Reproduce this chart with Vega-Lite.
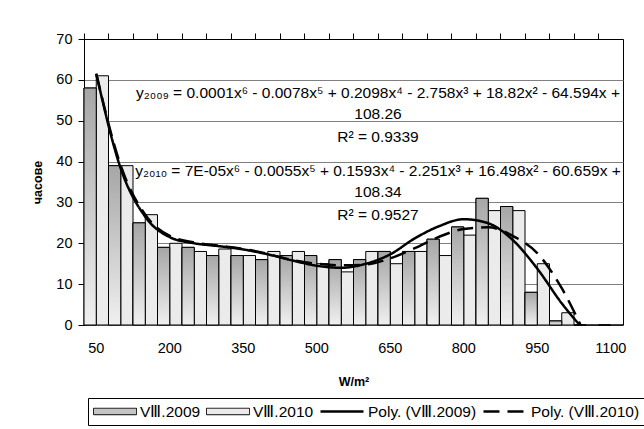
{
  "$schema": "https://vega.github.io/schema/vega-lite/v6.json",
  "width": 539,
  "height": 286,
  "autosize": "none",
  "padding": {"left": 84, "top": 39, "right": 21, "bottom": 104},
  "background": "white",
  "config": {
    "font": "Liberation Sans",
    "view": {"stroke": "black", "strokeWidth": 1},
    "axis": {"labelFont": "Liberation Sans", "titleFont": "Liberation Sans", "labelColor": "black", "titleColor": "black", "domainColor": "black", "tickColor": "black", "domainWidth": 1, "tickWidth": 1},
    "legend": {"labelFont": "Liberation Sans", "labelFontSize": 15.5, "labelColor": "black", "title": null}
  },
  "datasets": {
    "bars": [
      {"wm": 50, "series": "VⅢ.2009", "hours": 58}, {"wm": 50, "series": "VⅢ.2010", "hours": 61},
      {"wm": 100, "series": "VⅢ.2009", "hours": 39}, {"wm": 100, "series": "VⅢ.2010", "hours": 39},
      {"wm": 150, "series": "VⅢ.2009", "hours": 25}, {"wm": 150, "series": "VⅢ.2010", "hours": 27},
      {"wm": 200, "series": "VⅢ.2009", "hours": 19}, {"wm": 200, "series": "VⅢ.2010", "hours": 20},
      {"wm": 250, "series": "VⅢ.2009", "hours": 19}, {"wm": 250, "series": "VⅢ.2010", "hours": 18},
      {"wm": 300, "series": "VⅢ.2009", "hours": 17}, {"wm": 300, "series": "VⅢ.2010", "hours": 18.6},
      {"wm": 350, "series": "VⅢ.2009", "hours": 17}, {"wm": 350, "series": "VⅢ.2010", "hours": 17},
      {"wm": 400, "series": "VⅢ.2009", "hours": 16}, {"wm": 400, "series": "VⅢ.2010", "hours": 18},
      {"wm": 450, "series": "VⅢ.2009", "hours": 17}, {"wm": 450, "series": "VⅢ.2010", "hours": 18},
      {"wm": 500, "series": "VⅢ.2009", "hours": 17}, {"wm": 500, "series": "VⅢ.2010", "hours": 15},
      {"wm": 550, "series": "VⅢ.2009", "hours": 16}, {"wm": 550, "series": "VⅢ.2010", "hours": 13},
      {"wm": 600, "series": "VⅢ.2009", "hours": 16}, {"wm": 600, "series": "VⅢ.2010", "hours": 18},
      {"wm": 650, "series": "VⅢ.2009", "hours": 18}, {"wm": 650, "series": "VⅢ.2010", "hours": 15},
      {"wm": 700, "series": "VⅢ.2009", "hours": 18}, {"wm": 700, "series": "VⅢ.2010", "hours": 18},
      {"wm": 750, "series": "VⅢ.2009", "hours": 21}, {"wm": 750, "series": "VⅢ.2010", "hours": 17},
      {"wm": 800, "series": "VⅢ.2009", "hours": 24}, {"wm": 800, "series": "VⅢ.2010", "hours": 22},
      {"wm": 850, "series": "VⅢ.2009", "hours": 31}, {"wm": 850, "series": "VⅢ.2010", "hours": 28},
      {"wm": 900, "series": "VⅢ.2009", "hours": 29}, {"wm": 900, "series": "VⅢ.2010", "hours": 28},
      {"wm": 950, "series": "VⅢ.2009", "hours": 8}, {"wm": 950, "series": "VⅢ.2010", "hours": 15},
      {"wm": 1000, "series": "VⅢ.2009", "hours": 1}, {"wm": 1000, "series": "VⅢ.2010", "hours": 3},
      {"wm": 1050, "series": "VⅢ.2009", "hours": 0}, {"wm": 1050, "series": "VⅢ.2010", "hours": 0},
      {"wm": 1100, "series": "VⅢ.2009", "hours": 0}, {"wm": 1100, "series": "VⅢ.2010", "hours": 0}
    ],
    "trend": [
      {"key": "Poly. (VⅢ.2009)", "wm": 50, "v": 61.5},
      {"key": "Poly. (VⅢ.2009)", "wm": 100, "v": 38.3},
      {"key": "Poly. (VⅢ.2009)", "wm": 150, "v": 26.5},
      {"key": "Poly. (VⅢ.2009)", "wm": 200, "v": 21.5},
      {"key": "Poly. (VⅢ.2009)", "wm": 250, "v": 20.0},
      {"key": "Poly. (VⅢ.2009)", "wm": 300, "v": 19.3},
      {"key": "Poly. (VⅢ.2009)", "wm": 350, "v": 18.5},
      {"key": "Poly. (VⅢ.2009)", "wm": 400, "v": 17.3},
      {"key": "Poly. (VⅢ.2009)", "wm": 450, "v": 15.8},
      {"key": "Poly. (VⅢ.2009)", "wm": 500, "v": 14.5},
      {"key": "Poly. (VⅢ.2009)", "wm": 550, "v": 14.0},
      {"key": "Poly. (VⅢ.2009)", "wm": 600, "v": 15.0},
      {"key": "Poly. (VⅢ.2009)", "wm": 650, "v": 17.3},
      {"key": "Poly. (VⅢ.2009)", "wm": 700, "v": 21.2},
      {"key": "Poly. (VⅢ.2009)", "wm": 750, "v": 24.2},
      {"key": "Poly. (VⅢ.2009)", "wm": 800, "v": 25.9},
      {"key": "Poly. (VⅢ.2009)", "wm": 850, "v": 24.9},
      {"key": "Poly. (VⅢ.2009)", "wm": 900, "v": 20.8},
      {"key": "Poly. (VⅢ.2009)", "wm": 950, "v": 13.8},
      {"key": "Poly. (VⅢ.2009)", "wm": 1000, "v": 5.3},
      {"key": "Poly. (VⅢ.2009)", "wm": 1050, "v": -1.8},
      {"key": "Poly. (VⅢ.2010)", "wm": 50, "v": 61.5},
      {"key": "Poly. (VⅢ.2010)", "wm": 100, "v": 39},
      {"key": "Poly. (VⅢ.2010)", "wm": 150, "v": 27},
      {"key": "Poly. (VⅢ.2010)", "wm": 200, "v": 21.8},
      {"key": "Poly. (VⅢ.2010)", "wm": 250, "v": 20.2},
      {"key": "Poly. (VⅢ.2010)", "wm": 300, "v": 19.4},
      {"key": "Poly. (VⅢ.2010)", "wm": 350, "v": 18.6},
      {"key": "Poly. (VⅢ.2010)", "wm": 400, "v": 17.4},
      {"key": "Poly. (VⅢ.2010)", "wm": 450, "v": 15.9},
      {"key": "Poly. (VⅢ.2010)", "wm": 500, "v": 15.0},
      {"key": "Poly. (VⅢ.2010)", "wm": 550, "v": 14.6},
      {"key": "Poly. (VⅢ.2010)", "wm": 600, "v": 14.8},
      {"key": "Poly. (VⅢ.2010)", "wm": 650, "v": 16.3},
      {"key": "Poly. (VⅢ.2010)", "wm": 700, "v": 18.8},
      {"key": "Poly. (VⅢ.2010)", "wm": 750, "v": 21.6},
      {"key": "Poly. (VⅢ.2010)", "wm": 800, "v": 23.5},
      {"key": "Poly. (VⅢ.2010)", "wm": 850, "v": 23.9},
      {"key": "Poly. (VⅢ.2010)", "wm": 900, "v": 21.8},
      {"key": "Poly. (VⅢ.2010)", "wm": 950, "v": 17.6},
      {"key": "Poly. (VⅢ.2010)", "wm": 1000, "v": 9.0},
      {"key": "Poly. (VⅢ.2010)", "wm": 1050, "v": -3.0}
    ],
    "notes": [
      {"t": "y₂₀₀₉ = 0.0001x⁶ - 0.0078x⁵ + 0.2098x⁴ - 2.758x³ + 18.82x² - 64.594x +", "wm": 650, "v": 55.56},
      {"t": "108.26", "wm": 650, "v": 50.42},
      {"t": "R² = 0.9339", "wm": 650, "v": 44.86},
      {"t": "y₂₀₁₀ = 7E-05x⁶ - 0.0055x⁵ + 0.1593x⁴ - 2.251x³ + 16.498x² - 60.659x +", "wm": 650, "v": 36.47},
      {"t": "108.34", "wm": 650, "v": 31.25},
      {"t": "R² = 0.9527", "wm": 650, "v": 25.7}
    ]
  },
  "layer": [
    {
      "data": {"name": "bars"},
      "mark": {"type": "bar", "stroke": "black", "strokeWidth": 1},
      "encoding": {
        "x": {
          "field": "wm", "type": "ordinal",
          "scale": {"paddingInner": 0, "paddingOuter": 0},
          "axis": {"values": [50, 200, 350, 500, 650, 800, 950, 1100], "ticks": false, "tickSize": 0, "domain": false, "grid": false, "labelAngle": 0, "labelFontSize": 14.5, "labelPadding": 16, "title": "W/m²", "titleFontSize": 12.5, "titleFontWeight": "bold", "titlePadding": 21}
        },
        "xOffset": {"field": "series", "type": "nominal", "scale": {"domain": ["VⅢ.2009", "VⅢ.2010"], "paddingInner": 0, "paddingOuter": 0}},
        "y": {
          "field": "hours", "type": "quantitative",
          "scale": {"domain": [0, 70]},
          "axis": {"values": [0, 10, 20, 30, 40, 50, 60, 70], "tickSize": 6, "labelFontSize": 14.5, "labelPadding": 6, "title": "часове", "titleFontSize": 12.5, "titleFontWeight": "bold", "titlePadding": 11, "grid": true, "gridColor": "#808080", "gridWidth": 1}
        },
        "fill": {
          "field": "series", "type": "nominal",
          "scale": {"domain": ["VⅢ.2009", "VⅢ.2010", "Poly. (VⅢ.2009)", "Poly. (VⅢ.2010)"], "range": ["#c4c4c4", "#ebebeb", "transparent", "transparent"]},
          "legend": {"orient": "none", "legendX": 4, "legendY": 359, "direction": "horizontal", "symbolType": "M-1,-0.15H1V0.15H-1Z", "symbolSize": 1849, "clipHeight": 17, "symbolStrokeColor": "black", "symbolStrokeWidth": 1, "labelOffset": 3, "columnPadding": 5, "padding": 5, "strokeColor": "black", "fillColor": "white"}
        }
      }
    },
    {
      "data": {"name": "bars"},
      "transform": [{"filter": "datum.series === 'VⅢ.2009'"}],
      "mark": {"type": "bar", "stroke": "black", "strokeWidth": 1, "color": {"gradient": "linear", "x1": 0, "y1": 0, "x2": 0, "y2": 1, "stops": [{"offset": 0, "color": "#a6a6a6"}, {"offset": 1, "color": "#f0f0f0"}]}},
      "encoding": {
        "x": {"field": "wm", "type": "ordinal", "axis": null},
        "xOffset": {"field": "series", "type": "nominal"},
        "y": {"field": "hours", "type": "quantitative"}
      }
    },
    {
      "data": {"name": "trend"},
      "mark": {"type": "line", "interpolate": "monotone", "color": "black", "strokeCap": "butt", "clip": true},
      "encoding": {
        "x": {
          "field": "wm", "type": "ordinal",
          "axis": {"bandPosition": 0, "labels": false, "ticks": true, "tickSize": 6, "domain": true, "title": null, "grid": false}
        },
        "y": {"field": "v", "type": "quantitative"},
        "strokeDash": {
          "field": "key", "type": "nominal",
          "scale": {"domain": ["VⅢ.2009", "VⅢ.2010", "Poly. (VⅢ.2009)", "Poly. (VⅢ.2010)"], "range": [[1, 0], [1, 0], [1, 0], [16, 8]]},
          "legend": {"orient": "none", "legendX": 4, "legendY": 359, "direction": "horizontal"}
        },
        "strokeWidth": {
          "field": "key", "type": "nominal",
          "scale": {"type": "ordinal", "domain": ["VⅢ.2009", "VⅢ.2010", "Poly. (VⅢ.2009)", "Poly. (VⅢ.2010)"], "range": [1, 1, 2.5, 2.5]},
          "legend": {"orient": "none", "legendX": 4, "legendY": 359, "direction": "horizontal"}
        }
      }
    },
    {
      "data": {"name": "trend"},
      "mark": {"type": "point", "size": 0, "filled": false},
      "encoding": {
        "x": {"field": "wm", "type": "ordinal", "axis": null},
        "y": {"field": "v", "type": "quantitative"},
        "shape": {
          "field": "key", "type": "nominal",
          "scale": {"domain": ["VⅢ.2009", "VⅢ.2010", "Poly. (VⅢ.2009)", "Poly. (VⅢ.2010)"], "range": ["M-1,-0.15H1V0.15H-1Z", "M-1,-0.15H1V0.15H-1Z", "M-1,0H1", "M-1,0H1"]},
          "legend": {"orient": "none", "legendX": 4, "legendY": 359, "direction": "horizontal"}
        }
      }
    },
    {
      "data": {"name": "notes"},
      "mark": {"type": "text", "align": "center", "baseline": "alphabetic", "fontSize": 15.5, "font": "Liberation Sans", "color": "black"},
      "encoding": {
        "x": {"field": "wm", "type": "ordinal", "bandPosition": 0, "axis": null},
        "y": {"field": "v", "type": "quantitative"},
        "text": {"field": "t"}
      }
    }
  ],
  "resolve": {"axis": {"x": "independent"}}
}
